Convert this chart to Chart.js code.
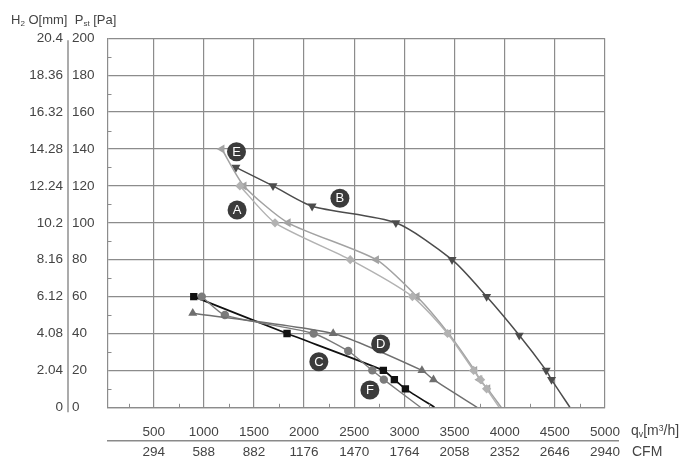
<!DOCTYPE html>
<html><head><meta charset="utf-8">
<script src="https://cdn.jsdelivr.net/npm/chart.js@4.4.0/dist/chart.umd.min.js"></script>
<style>
html,body{margin:0;padding:0;background:#fff;}
#wrap{position:relative;width:700px;height:471px;font-family:"Liberation Sans",Arial,sans-serif;color:#444;}
canvas{position:absolute;left:0;top:0;}
.lbl{position:absolute;white-space:nowrap;font-size:13px;line-height:1;color:#444;}
.lbl sub{font-size:0.62em;vertical-align:baseline;position:relative;top:0.2em;}
.lbl sup{font-size:0.62em;vertical-align:baseline;position:relative;top:-0.45em;}
</style></head><body>
<div id="wrap">
<canvas id="c" width="700" height="471"></canvas>
<div class="lbl" style="left:11px;top:13px;">H<sub>2</sub> O[mm]&nbsp; P<sub>st</sub> [Pa]</div>
<div class="lbl" style="left:631px;top:423px;font-size:14px;">q<sub>v</sub>[m<sup>3</sup>/h]</div>
<div class="lbl" style="left:632px;top:444px;font-size:14px;">CFM</div>
</div>
<script>
// ---- data ----
const flowTicks = [500,1000,1500,2000,2500,3000,3500,4000,4500,5000];
const cfmLabels = ['294','588','882','1176','1470','1764','2058','2352','2646','2940'];
const paTicks = [0,20,40,60,80,100,120,140,160,180,200];
const mmLabels = ['0','2.04','4.08','6.12','8.16','10.2','12.24','14.28','16.32','18.36','20.4'];
const minorFlow = [250,750,1250,1750,2250,2750,3250,3750,4250,4750];
const minorPa = [10,30,50,70,90,110,130,150,170,190];

// each curve: [flow m3/h, pressure Pa]; last point (0 Pa) carries no marker
const curveA = [[1360,120],[1710,100],[2460,80],[3080,60],[3430,40],[3690,20],[3760,15],[3820,10],[3945,0]];
const curveB = [[1320,130],[1690,120],[2080,109],[2915,100],[3475,80],[3820,60],[4145,39],[4413,20],[4467,15],[4650,0]];
const curveC = [[900,60],[1830,40],[2790,20],[2900,15],[3010,10],[3300,0]];
const curveD = [[890,51],[2290,40],[3175,20],[3290,15],[3725,0]];
const curveE = [[1180,140],[1400,120],[1840,100],[2720,80],[3125,60],[3440,40],[3700,20],[3750,15],[3830,10],[3965,0]];
const curveF = [[980,60],[1210,50],[2095,40],[2440,30.5],[2680,20],[2795,15],[3160,0]];

// curve tags: [letter, flow, pressure]
const curveTags = [['E',1326,138.5],['B',2357,113.3],['A',1332,106.9],['D',2763,34.3],['C',2147,24.7],['F',2656,9.4]];

const FONT = '"Liberation Sans", Arial, sans-serif';
const GRID = '#8c8c8c';

function ds(label, pts, color, style, rot, r, bw, t){
  return {
    label: label,
    data: pts.map(p => ({x:p[0], y:p[1]})),
    borderColor: color, backgroundColor: color,
    borderWidth: bw, pointStyle: style, rotation: rot,
    pointRadius: c => (c.raw && c.raw.y === 0) ? 0 : r,
    pointBorderWidth: 0,
    pointHoverRadius: r,
    tension: t,
    fill: false
  };
}

const decor = {
  id: 'decor',
  afterDraw(chart){
    const ctx = chart.ctx, ca = chart.chartArea;
    const sx = chart.scales.x, sy = chart.scales.y, sx2 = chart.scales.x2;
    ctx.save();
    // minor ticks
    ctx.strokeStyle = GRID; ctx.lineWidth = 1;
    minorFlow.forEach(v => {
      const px = Math.round(sx.getPixelForValue(v)) + 0.5;
      ctx.beginPath(); ctx.moveTo(px, ca.bottom); ctx.lineTo(px, ca.bottom - 3.5); ctx.stroke();
    });
    minorPa.forEach(v => {
      const py = Math.round(sy.getPixelForValue(v)) + 0.5;
      ctx.beginPath(); ctx.moveTo(ca.left, py); ctx.lineTo(ca.left + 3.5, py); ctx.stroke();
    });
    // separator between mm and Pa columns
    ctx.strokeStyle = '#666'; ctx.lineWidth = 1.1;
    ctx.beginPath(); ctx.moveTo(sy.left - 4, ca.top + 2); ctx.lineTo(sy.left - 4, ca.bottom + 5); ctx.stroke();
    // rule between m3/h and CFM rows
    ctx.strokeStyle = '#8a8a8a'; ctx.lineWidth = 1.4;
    ctx.beginPath(); ctx.moveTo(ca.left - 1, sx2.top); ctx.lineTo(ca.right + 14, sx2.top); ctx.stroke();
    // curve tags
    curveTags.forEach(t => {
      const px = sx.getPixelForValue(t[1]), py = sy.getPixelForValue(t[2]);
      ctx.fillStyle = '#3b3b3b';
      ctx.beginPath(); ctx.arc(px, py, 9.5, 0, Math.PI*2); ctx.fill();
      ctx.fillStyle = '#fff';
      ctx.font = '13px ' + FONT;
      ctx.textAlign = 'center'; ctx.textBaseline = 'middle';
      ctx.fillText(t[0], px, py + 0.5);
    });
    ctx.restore();
  }
};

const tickFont = {family: FONT, size: 13.5};

new Chart(document.getElementById('c'), {
  type: 'line',
  data: {
    datasets: [
      ds('A', curveA, '#b2b2b2', 'rectRot', 0, 4.6, 1.5, 0.22),
      ds('E', curveE, '#a2a2a2', 'triangle', 270, 5.2, 1.5, 0.22),
      ds('D', curveD, '#6f6f6f', 'triangle', 0, 5.2, 1.4, 0.2),
      ds('F', curveF, '#7b7b7b', 'circle', 0, 4.2, 1.4, 0.2),
      ds('C', curveC, '#111111', 'rect', 0, 5.2, 1.7, 0.2),
      ds('B', curveB, '#4c4c4c', 'triangle', 180, 5.2, 1.5, 0.25)
    ]
  },
  options: {
    responsive: false,
    animation: false,
    events: [],
    layout: {padding: {left: 10, right: 95, top: 38.3, bottom: 10.2}},
    plugins: {legend: {display: false}, tooltip: {enabled: false}},
    scales: {
      x: {
        type: 'linear', position: 'bottom', min: 45, max: 5000, weight: 0,
        afterBuildTicks: s => { s.ticks = flowTicks.map(v => ({value: v})); },
        afterFit: s => { s.height = 33.5; },
        ticks: {callback: v => String(v), padding: 17, font: tickFont, color: '#444', maxRotation: 0, autoSkip: false},
        grid: {color: GRID, lineWidth: 1.2, drawTicks: false},
        border: {color: GRID, width: 1.2}
      },
      x2: {
        type: 'linear', position: 'bottom', min: 45, max: 5000, weight: 1,
        afterBuildTicks: s => { s.ticks = flowTicks.map(v => ({value: v})); },
        afterFit: s => { s.height = 20; },
        ticks: {callback: v => cfmLabels[flowTicks.indexOf(v)], padding: 3.4, font: tickFont, color: '#444', maxRotation: 0, autoSkip: false},
        grid: {display: false, drawTicks: false},
        border: {display: false}
      },
      y: {
        type: 'linear', position: 'left', min: 0, max: 200, weight: 0,
        afterBuildTicks: s => { s.ticks = paTicks.map(v => ({value: v})); },
        afterFit: s => { s.width = 36; },
        ticks: {callback: v => String(v), crossAlign: 'far', padding: 0, font: tickFont, color: '#444', autoSkip: false},
        grid: {color: GRID, lineWidth: 1.2, drawTicks: false},
        border: {color: GRID, width: 1.2}
      },
      ymm: {
        type: 'linear', position: 'left', min: 0, max: 200, weight: 1,
        afterBuildTicks: s => { s.ticks = paTicks.map(v => ({value: v})); },
        afterFit: s => { s.width = 62; },
        ticks: {callback: v => mmLabels[paTicks.indexOf(v)], padding: 9, font: tickFont, color: '#444', autoSkip: false},
        grid: {display: false, drawTicks: false},
        border: {display: false}
      }
    }
  },
  plugins: [decor]
});
</script>
</body></html>
